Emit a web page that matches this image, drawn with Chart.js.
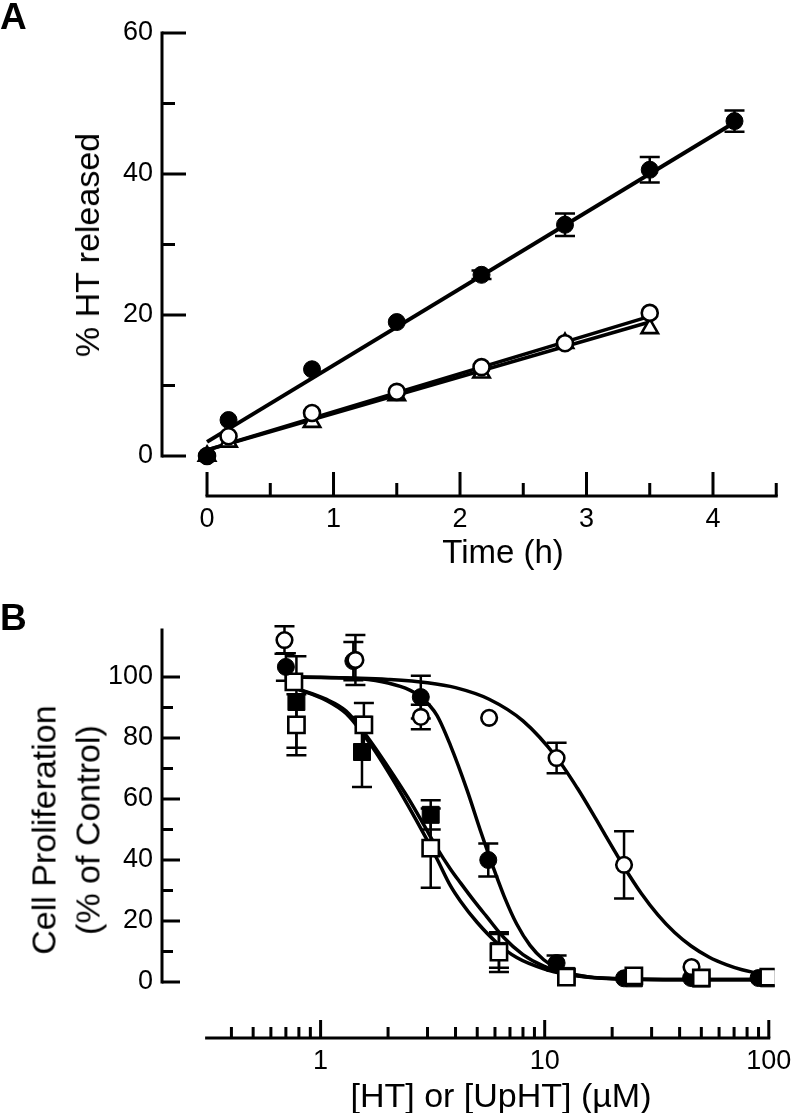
<!DOCTYPE html>
<html lang="en">
<head>
<meta charset="utf-8">
<title>HT release and cell proliferation</title>
<script src="https://cdn.jsdelivr.net/npm/chart.js@4.4.3/dist/chart.umd.min.js"></script>
<style>
  html, body { margin: 0; padding: 0; background: #fff; }
  body {
    width: 799px; height: 1113px; position: relative; overflow: hidden;
    font-family: "Liberation Sans", Arial, sans-serif; color: #000;
  }
  .panel { position: absolute; left: 0; width: 799px; }
  #panelA { top: 0; height: 580px; }
  #panelB { top: 580px; height: 533px; }
  .label { position: absolute; white-space: nowrap; z-index: 2; }
  .letter { left: 0; font-weight: bold; font-size: 37px; line-height: 37px; }
  .title { font-size: 34px; line-height: 34px; }
  .xtitle { transform: translateX(-50%); }
  .ytitle { transform: translate(-50%, -50%) rotate(-90deg); text-align: center; }
</style>
</head>
<body>
  <div class="label letter" style="top:-2px">A</div>
  <div class="label letter" style="top:599px">B</div>

  <div class="label title ytitle" style="left:87px; top:245px">% HT released</div>
  <div class="label title xtitle" style="left:503px; top:535px; font-size:33px">Time (h)</div>

  <div class="label title ytitle" style="left:66px; top:830px; line-height:43.5px">Cell Proliferation<br>(% of Control)</div>
  <div class="label title xtitle" style="left:501px; top:1078px">[HT] or [UpHT] (µM)</div>

  <div class="panel" id="panelA"><canvas id="chartA"></canvas></div>
  <div class="panel" id="panelB"><canvas id="chartB"></canvas></div>

<script>
// ---- Panel A: % HT released vs time ----
const timeFilled = [0, 0.17, 0.83, 1.5, 2.17, 2.83, 3.5, 4.17];
const releaseFilled = [0, 5.1, 12.3, 19.0, 25.7, 32.8, 40.6, 47.5];
const releaseFilledErr = [0, 0, 0, 0, 0.6, 1.6, 1.8, 1.5];
const timeOpen = [0, 0.17, 0.83, 1.5, 2.17, 2.83, 3.5];
const releaseOpenCircle = [0, 2.8, 6.1, 9.1, 12.6, 16.0, 20.3];
const releaseTriangle = [0, 2.0, 4.8, 8.6, 11.8, 16.0, 18.1];

// regression lines (end points)
const fitFilledX = [0, 4.17];
const fitFilledY = [2.0, 47.3];
const fitOpenX = [0, 3.5];
const fitOpenCircleY = [0.85, 19.8];
const fitTriangleY = [0.85, 19.0];

const timeTicks = [0, 1, 2, 3, 4];
const timeMinor = [0.5, 1.5, 2.5, 3.5, 4.5];
const releaseTicks = [0, 20, 40, 60];
const releaseMinor = [10, 30, 50];

// ---- Panel B: cell proliferation vs concentration ----
const concFilledCircle = [0.7, 1.4, 2.8, 5.6, 11.3, 22.6, 45, 90];
const prolFilledCircle = [103.3, 105.2, 93.4, 40, 6.2, 1.2, 1.3, 1.3];
const prolFilledCircleErr = [4.5, 6.3, 7, 5.4, 2.5, 0, 0, 0];

const concOpenCircle = [0.69, 1.43, 2.8, 5.65, 11.3, 22.6, 45.2];
const prolOpenCircle = [112.1, 105.6, 86.9, 86.6, 73.4, 38.4, 4.9];
const prolOpenCircleErr = [4.5, 8.2, 4, 0, 5, 11, 0];

const concFilledSquare = [0.78, 1.53, 3.1, 6.25, 12.5, 25, 50, 100];
const prolFilledSquare = [91.8, 75.4, 54.8, 10.2, 2.0, 1.2, 1.2, 1.2];
const prolFilledSquareErr = [15, 11.5, 4.8, 5.5, 0, 0, 0, 0];

const concOpenSquare = [0.78, 1.56, 3.1, 6.25, 12.5, 25, 50, 100];
const prolOpenSquare = [84.3, 84.3, 43.9, 9.8, 1.6, 2.0, 1.3, 1.6];
const prolOpenSquareErr = [10, 7.2, 13, 6.5, 0, 0, 0, 0];

// one more open square, half hidden behind the filled circle at the lowest dose
const concOpenSquareBack = [0.76];
const prolOpenSquareBack = [98.4];

// fitted curves
const curveOpenCircleX = [0.76, 1, 1.5, 2, 3, 4, 5.65, 8, 11.3, 14, 17, 20, 22.6, 27, 32, 38, 45, 54, 65, 76, 89];
const curveOpenCircleY = [100, 99.8, 99.6, 99.2, 98.1, 96.5, 92.7, 85.6, 73.6, 63.5, 53.2, 44.3, 37.7, 29, 22, 16.2, 11.8, 8.2, 5.6, 4.0, 2.9];
const curveFilledCircleX = [0.76, 1, 1.5, 2, 2.5, 2.8, 3.3, 3.8, 4.5, 5.2, 6, 6.6, 7.5, 8.6, 9.9, 11.3, 13, 16, 20, 25, 35, 50, 70, 96];
const curveFilledCircleY = [100, 99.9, 99.4, 98, 95.7, 93.5, 87.5, 77.5, 63, 49, 36, 28, 19, 12, 7.3, 4.6, 2.8, 1.6, 1.1, 0.9, 0.8, 0.8, 0.8, 0.8];
const curveOpenSquareX = [0.78, 1.05, 1.3, 1.63, 2.0, 2.45, 2.94, 3.3, 3.8, 4.21, 5.0, 6.13, 7.5, 9.9, 12.5, 16, 25, 50, 96];
const curveOpenSquareY = [96.2, 92.5, 88, 79, 69, 58, 47.5, 40.5, 31.5, 26.5, 19.5, 12.8, 8, 4.3, 2.5, 1.5, 0.9, 0.7, 0.7];
const curveFilledSquareX = [0.78, 1.05, 1.3, 1.63, 2.0, 2.45, 2.94, 3.3, 3.8, 4.21, 4.85, 5.5, 6.58, 8, 9.9, 12.5, 16, 25, 50, 96];
const curveFilledSquareY = [96.2, 92.8, 88.8, 80, 70.5, 60.5, 50.5, 44, 37, 32.5, 26.5, 21.5, 14.5, 9, 5.2, 2.8, 1.6, 1, 0.8, 0.8];

const concTicks = [1, 10, 100];
const concMinor = [0.4, 0.5, 0.6, 0.7, 0.8, 0.9, 2, 3, 4, 5, 6, 7, 8, 9, 20, 30, 40, 50, 60, 70, 80, 90];
const prolTicks = [0, 20, 40, 60, 80, 100];
const prolMinor = [10, 30, 50, 70, 90];

function points(xs, ys) {
  return xs.map((x, i) => ({ x: x, y: ys[i] }));
}

// axis lines with inward ticks, drawn through the scales
const axisFrame = {
  id: 'axisFrame',
  beforeDatasetsDraw(chart, args, o) {
    const ctx = chart.ctx;
    const xs = chart.scales.x, ys = chart.scales.y;
    const left = chart.chartArea.left, bottom = chart.chartArea.bottom;
    ctx.save();
    ctx.strokeStyle = '#000';
    ctx.lineWidth = 3;
    ctx.lineCap = 'square';
    ctx.beginPath();
    ctx.moveTo(left, ys.getPixelForValue(o.yLine[0]));
    ctx.lineTo(left, ys.getPixelForValue(o.yLine[1]));
    ctx.moveTo(xs.getPixelForValue(o.xLine[0]), bottom);
    ctx.lineTo(xs.getPixelForValue(o.xLine[1]), bottom);
    ctx.stroke();
    ctx.lineCap = 'butt';
    ctx.beginPath();
    o.yMajor.forEach(v => { const p = ys.getPixelForValue(v); ctx.moveTo(left, p); ctx.lineTo(left + o.major, p); });
    o.yMinor.forEach(v => { const p = ys.getPixelForValue(v); ctx.moveTo(left, p); ctx.lineTo(left + o.minor, p); });
    o.xMajor.forEach(v => { const p = xs.getPixelForValue(v); ctx.moveTo(p, bottom); ctx.lineTo(p, bottom - o.major); });
    o.xMinor.forEach(v => { const p = xs.getPixelForValue(v); ctx.moveTo(p, bottom); ctx.lineTo(p, bottom - o.minor); });
    ctx.stroke();
    ctx.restore();
  }
};

// capped vertical error bars, under the markers
const errorBars = {
  id: 'errorBars',
  beforeDatasetsDraw(chart) {
    const ctx = chart.ctx;
    const xs = chart.scales.x, ys = chart.scales.y;
    ctx.save();
    ctx.strokeStyle = '#000';
    ctx.lineWidth = 2.5;
    chart.data.datasets.forEach(ds => {
      if (!ds.errors) return;
      ds.data.forEach((pt, i) => {
        const e = ds.errors[i];
        if (!e) return;
        const px = xs.getPixelForValue(pt.x);
        const top = ys.getPixelForValue(pt.y + e);
        const bot = ys.getPixelForValue(pt.y - e);
        ctx.beginPath();
        ctx.moveTo(px, top); ctx.lineTo(px, bot);
        ctx.moveTo(px - 10, top); ctx.lineTo(px + 10, top);
        ctx.moveTo(px - 10, bot); ctx.lineTo(px + 10, bot);
        ctx.stroke();
      });
    });
    ctx.restore();
  }
};

const tickFont = { family: '"Liberation Sans", Arial, sans-serif', size: 27 };

function buildOptions(cfg) {
  return {
    responsive: true,
    maintainAspectRatio: false,
    animation: false,
    events: [],
    layout: { padding: cfg.padding },
    plugins: {
      legend: { display: false },
      tooltip: { enabled: false },
      axisFrame: cfg.frame
    },
    scales: {
      x: {
        type: cfg.xType,
        min: cfg.xMin,
        max: cfg.xMax,
        grid: { display: false, drawTicks: false },
        border: { display: false },
        ticks: { font: tickFont, color: '#000', padding: 7.5, maxRotation: 0, autoSkip: false,
                 callback: v => String(v) },
        afterBuildTicks: s => { s.ticks = cfg.xTicks.map(v => ({ value: v })); },
        afterFit: s => { s.height = cfg.xHeight; }
      },
      y: {
        type: 'linear',
        min: cfg.yMin,
        max: cfg.yMax,
        grid: { display: false, drawTicks: false },
        border: { display: false },
        ticks: { font: tickFont, color: '#000', padding: 9, callback: v => String(v) },
        afterBuildTicks: s => { s.ticks = cfg.yTicks.map(v => ({ value: v })); },
        afterFit: s => { s.width = 162; }
      }
    }
  };
}

function fitLine(xs, ys, width, order, mono) {
  return {
    data: points(xs, ys), showLine: true, pointRadius: 0,
    borderColor: '#000', borderWidth: width, fill: false, order: order,
    cubicInterpolationMode: mono ? 'monotone' : 'default'
  };
}

function markers(xs, ys, errs, style, radius, filled, order) {
  return {
    data: points(xs, ys), errors: errs, showLine: false,
    pointStyle: style, pointRadius: radius,
    pointBackgroundColor: filled ? '#000' : '#fff',
    pointBorderColor: '#000',
    pointBorderWidth: filled ? 1 : 2.6,
    order: order
  };
}

new Chart(document.getElementById('chartA'), {
  type: 'scatter',
  data: {
    datasets: [
      markers(timeFilled, releaseFilled, releaseFilledErr, 'circle', 8.5, true, 1),
      markers(timeOpen, releaseOpenCircle, null, 'circle', 8, false, 2),
      markers(timeOpen, releaseTriangle, null, 'triangle', 9.5, false, 3),
      fitLine(fitFilledX, fitFilledY, 4, 10, false),
      fitLine(fitOpenX, fitOpenCircleY, 3.5, 11, false),
      fitLine(fitOpenX, fitTriangleY, 3.5, 12, false)
    ]
  },
  options: buildOptions({
    padding: { top: 33, right: 22, left: 0, bottom: 0 },
    xType: 'linear', xMin: -0.356, xMax: 4.506, xTicks: timeTicks, xHeight: 84,
    yMin: -5.674, yMax: 60, yTicks: releaseTicks,
    frame: { xLine: [0, 4.5], yLine: [0, 60], xMajor: timeTicks, xMinor: timeMinor,
             yMajor: releaseTicks, yMinor: releaseMinor, major: 24, minor: 13 }
  }),
  plugins: [axisFrame, errorBars]
});

new Chart(document.getElementById('chartB'), {
  type: 'scatter',
  data: {
    datasets: [
      markers(concOpenSquare, prolOpenSquare, prolOpenSquareErr, 'rect', 11.5, false, 1),
      markers(concOpenCircle, prolOpenCircle, prolOpenCircleErr, 'circle', 7.8, false, 2),
      markers(concFilledSquare, prolFilledSquare, prolFilledSquareErr, 'rect', 12, true, 3),
      markers(concFilledCircle, prolFilledCircle, prolFilledCircleErr, 'circle', 8.5, true, 4),
      markers(concOpenSquareBack, prolOpenSquareBack, null, 'rect', 11.5, false, 5),
      fitLine(curveOpenCircleX, curveOpenCircleY, 3.5, 10, true),
      fitLine(curveFilledCircleX, curveFilledCircleY, 3.5, 11, true),
      fitLine(curveOpenSquareX, curveOpenSquareY, 3.5, 12, true),
      fitLine(curveFilledSquareX, curveFilledSquareY, 3.5, 13, true)
    ]
  },
  options: buildOptions({
    padding: { top: 50, right: 19, left: 0, bottom: 0 },
    xType: 'logarithmic', xMin: 0.196, xMax: 106.3, xTicks: concTicks, xHeight: 75,
    yMin: -18.36, yMax: 115.4, yTicks: prolTicks,
    frame: { xLine: [0.31, 100], yLine: [0, 115.4], xMajor: concTicks, xMinor: concMinor,
             yMajor: prolTicks, yMinor: prolMinor, major: 18, minor: 11 }
  }),
  plugins: [axisFrame, errorBars]
});
</script>
</body>
</html>
